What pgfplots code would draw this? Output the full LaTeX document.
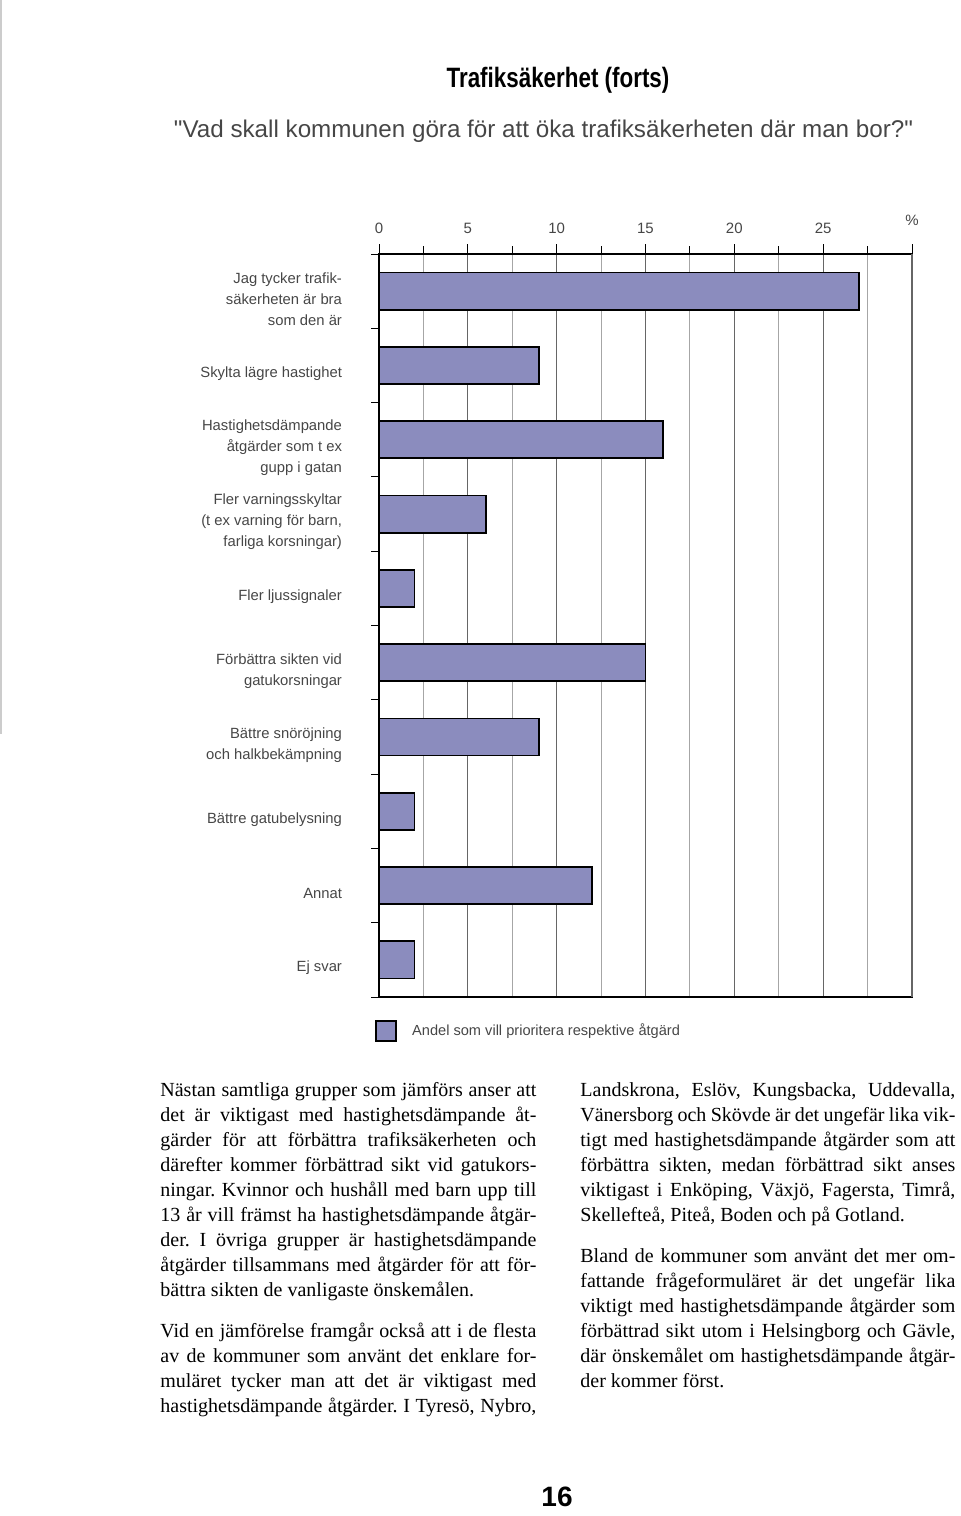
\documentclass[border=0pt]{standalone}
\usepackage{fontspec}
\usepackage{pgfplots}
\pgfplotsset{compat=1.18}
\setmainfont{Liberation Serif}
\setsansfont{Liberation Sans}
\newfontfamily\titlefont[FakeStretch=0.8]{Liberation Sans}
\newfontfamily\subfont[Ligatures=TeXOff]{Liberation Sans}
\definecolor{barfill}{RGB}{139,140,190}
\definecolor{labelgray}{RGB}{70,70,70}

\begin{document}
\begin{tikzpicture}
\useasboundingbox (0,0) rectangle (480pt,-758pt);
% faint page edge from the scan
\draw[black!20, line width=0.8pt] (0.6pt,0) -- (0.6pt,-367pt);

\node[font=\titlefont\bfseries\fontsize{14}{16}\selectfont] at (279pt,-40pt) {Trafiksäkerhet (forts)};
\node[font=\subfont\fontsize{12.1}{14}\selectfont, text=labelgray] at (271.75pt,-65.5pt)
  {"Vad skall kommunen göra för att öka trafiksäkerheten där man bor?"};

\begin{axis}[
  at={(189.5pt,-127pt)}, anchor=north west,
  scale only axis, width=266.5pt, height=371.5pt,
  xbar, bar width=0.5,
  xmin=0, xmax=30, ymin=-0.5, ymax=9.5, y dir=reverse,
  axis line style={line width=0.9pt},
  /pgf/number format/assume math mode=true,
  xtick={0,5,10,15,20,25}, xticklabels={0,5,10,15,20,25},
  minor xtick={2.5,7.5,...,27.5},
  extra x ticks={30}, extra x tick labels={\%},
  extra x tick style={xticklabel style={yshift=4pt}},
  xtick pos=right, xticklabel pos=right,
  ytick pos=left,
  tick align=outside,
  major tick length=5pt, minor tick length=4pt,
  tick style={black, line width=0.5pt},
  xmajorgrids, xminorgrids,
  major grid style={draw=black!60, line width=0.6pt},
  minor grid style={draw=black!35, line width=0.5pt},
  xticklabel style={font=\sffamily\fontsize{7.5}{9}\selectfont, text=labelgray, yshift=1.5pt},
  ytick={0,...,9},
  minor ytick={-0.5,0.5,...,9.5},
  major y tick style={draw=none},
  yticklabels={
    {Jag tycker trafik-\\säkerheten är bra\\som den är},
    {Skylta lägre hastighet},
    {Hastighetsdämpande\\åtgärder som t ex\\gupp i gatan},
    {Fler varningsskyltar\\(t ex varning för barn,\\farliga korsningar)},
    {Fler ljussignaler},
    {Förbättra sikten vid\\gatukorsningar},
    {Bättre snöröjning\\och halkbekämpning},
    {Bättre gatubelysning},
    {Annat},
    {Ej svar}},
  yticklabel style={align=right, font=\sffamily\fontsize{7.4}{10.5}\selectfont,
    text=labelgray, xshift=-10pt, yshift=-4pt},
  legend style={at={(0,0)}, anchor=north west, draw=none, fill=none,
    xshift=-5pt, yshift=-9pt,
    font=\sffamily\fontsize{7.3}{9}\selectfont, text=labelgray},
  legend cell align=left,
  legend image code/.code={%
    \draw[#1, line width=0.8pt] (0pt,-5pt) rectangle (10pt,5pt);
    \path[draw=none, fill=none] (0pt,0pt) -- (16pt,0pt);},
]
\addplot[draw=black, line width=0.9pt, fill=barfill] coordinates {
  (27,0) (9,1) (16,2) (6,3) (2,4) (15,5) (9,6) (2,7) (12,8) (2,9)};
\addlegendentry{Andel som vill prioritera respektive åtgärd}
\end{axis}

\node[anchor=north west, text width=188pt, inner sep=0pt, align=justify,
  font=\fontsize{10}{12.5}\selectfont] at (80pt,-541pt) {%
\tolerance=10000\hyphenpenalty=10000\parindent=0pt\frenchspacing
Nästan samtliga grupper som jämförs anser att\linebreak
det är viktigast med hastighetsdämpande åt-\linebreak
gärder för att förbättra trafiksäkerheten och\linebreak
därefter kommer förbättrad sikt vid gatukors-\linebreak
ningar. Kvinnor och hushåll med barn upp till\linebreak
13 år vill främst ha hastighetsdämpande åtgär-\linebreak
der. I övriga grupper är hastighetsdämpande\linebreak
åtgärder tillsammans med åtgärder för att för-\linebreak
bättra sikten de vanligaste önskemålen.\par\vspace{8pt}
Vid en jämförelse framgår också att i de flesta\linebreak
av de kommuner som använt det enklare for-\linebreak
muläret tycker man att det är viktigast med\linebreak
hastighetsdämpande åtgärder. I Tyresö, Nybro,\linebreak};

\node[anchor=north west, text width=187.5pt, inner sep=0pt, align=justify,
  font=\fontsize{10}{12.5}\selectfont] at (290pt,-541pt) {%
\tolerance=10000\hyphenpenalty=10000\parindent=0pt\frenchspacing
Landskrona, Eslöv, Kungsbacka, Uddevalla,\linebreak
Vänersborg och Skövde är det ungefär lika vik-\linebreak
tigt med hastighetsdämpande åtgärder som att\linebreak
förbättra sikten, medan förbättrad sikt anses\linebreak
viktigast i Enköping, Växjö, Fagersta, Timrå,\linebreak
Skellefteå, Piteå, Boden och på Gotland.\par\vspace{8pt}
Bland de kommuner som använt det mer om-\linebreak
fattande frågeformuläret är det ungefär lika\linebreak
viktigt med hastighetsdämpande åtgärder som\linebreak
förbättrad sikt utom i Helsingborg och Gävle,\linebreak
där önskemålet om hastighetsdämpande åtgär-\linebreak
der kommer först.};

\node[font=\sffamily\bfseries\fontsize{14}{16}\selectfont] at (278.5pt,-748.5pt) {16};
\end{tikzpicture}
\end{document}
